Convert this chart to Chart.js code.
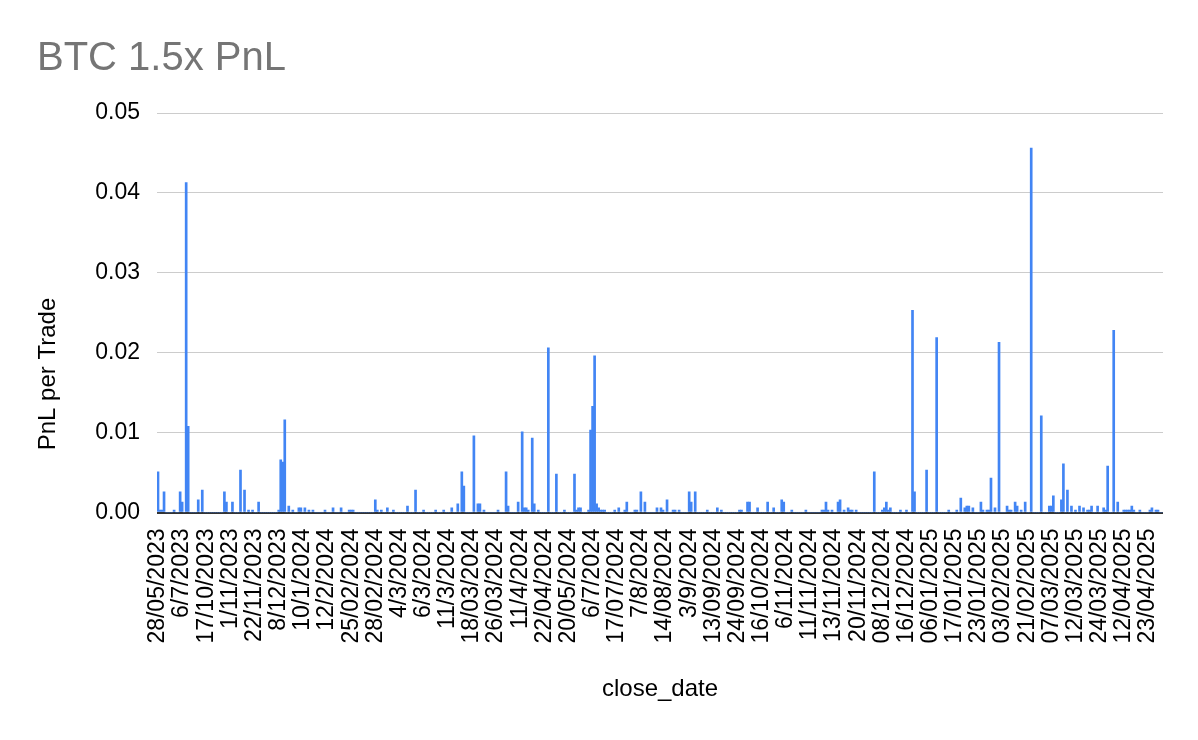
<!DOCTYPE html>
<html>
<head>
<meta charset="utf-8">
<title>BTC 1.5x PnL</title>
<script src="https://cdn.jsdelivr.net/npm/chart.js@4"></script>
<style>
    body { margin: 0; background: #fff; }
    #chart { display: block; }
</style>
</head>
<body>
<canvas id="chart" width="1198" height="740"></canvas>
<script>
// one label is shown for every 12 trades
const tickLabels = [
    '28/05/2023', '6/7/2023', '17/10/2023', '1/11/2023', '22/11/2023', '8/12/2023',
    '10/1/2024', '12/2/2024', '25/02/2024', '28/02/2024', '4/3/2024', '6/3/2024',
    '11/3/2024', '18/03/2024', '26/03/2024', '11/4/2024', '22/04/2024', '20/05/2024',
    '6/7/2024', '17/07/2024', '7/8/2024', '14/08/2024', '3/9/2024', '13/09/2024',
    '24/09/2024', '16/10/2024', '6/11/2024', '11/11/2024', '13/11/2024', '20/11/2024',
    '08/12/2024', '16/12/2024', '06/01/2025', '17/01/2025', '23/01/2025', '03/02/2025',
    '21/02/2025', '07/03/2025', '12/03/2025', '24/03/2025', '12/04/2025', '23/04/2025'
];
const tickEvery = 12;

// PnL per trade
const pnl = [
    .0051,.0003,.0003,.0026,0,0,0,0,.0003,0,0,.0026,.0013,0,.0413,.0108,0,0,0,0,
    .0016,0,.0028,0,0,0,0,0,0,0,0,0,0,.0026,.0013,0,0,.0013,0,0,
    0,.0053,0,.0028,0,.0003,0,.0003,0,0,.0013,0,0,0,0,0,0,0,0,0,
    .0003,.0066,.0063,.0116,0,.0008,0,.0003,0,0,.0006,.0006,0,.0006,0,.0003,0,.0003,0,0,
    0,0,0,.0003,0,0,0,.0006,0,0,0,.0006,0,0,0,.0003,.0003,.0003,0,0,
    0,0,0,0,0,0,0,0,.0016,.0003,0,.0003,0,0,.0006,0,0,.0003,0,0,
    0,0,0,0,.0008,0,0,0,.0028,0,0,0,.0003,0,0,0,0,0,.0003,0,
    0,0,.0003,0,0,0,.0006,0,0,.0011,0,.0051,.0033,0,0,0,0,.0096,0,.0011,
    .0011,0,.0003,0,0,0,0,0,0,.0003,0,0,0,.0051,.0008,0,0,0,0,.0013,
    0,.0101,.0006,.0006,.0003,0,.0093,.0011,0,.0003,0,0,0,0,.0206,0,0,0,.0048,0,
    0,0,.0003,0,0,0,0,.0048,.0003,.0006,.0006,0,0,0,.0003,.0103,.0133,.0196,.0011,.0006,
    .0003,.0003,.0003,0,0,0,0,.0003,0,.0006,0,0,.0003,.0013,0,0,0,.0003,.0003,0,
    .0026,0,.0013,0,0,0,0,0,.0006,0,.0006,.0003,0,.0016,0,0,.0003,.0003,0,.0003,
    0,0,0,0,.0026,.0013,0,.0026,0,0,0,0,0,.0003,0,0,0,0,.0006,0,
    .0003,0,0,0,0,0,0,0,0,.0003,.0003,0,0,.0013,.0013,0,0,0,.0006,0,
    0,0,0,.0013,0,0,.0006,0,0,0,.0016,.0013,0,0,0,.0003,0,0,0,0,
    0,0,.0003,0,0,0,0,0,0,0,.0003,.0003,.0013,.0003,0,.0003,0,0,.0013,.0016,
    0,.0003,0,.0006,.0003,.0003,0,.0003,0,0,0,0,0,0,0,0,.0051,0,0,0,
    .0003,.0006,.0013,.0003,.0006,0,0,0,0,.0003,0,0,.0003,0,0,.0253,.0026,0,0,0,
    0,0,.0053,0,0,0,0,.0219,0,0,0,0,0,.0003,0,0,0,.0003,0,.0018,
    0,.0006,.0008,.0008,0,.0006,0,0,0,.0013,.0003,0,.0003,.0003,.0043,0,.0006,0,.0213,0,
    0,0,.0008,.0003,.0003,0,.0013,.0008,0,.0003,0,.0013,0,0,.0456,0,0,0,0,.0121,
    0,0,0,.0008,.0008,.0021,0,0,0,.0016,.0061,0,.0028,0,.0008,0,.0003,0,.0008,0,
    .0006,0,.0003,.0003,.0008,0,0,.0008,0,0,.0006,.0003,.0058,0,0,.0228,0,.0013,0,0,
    .0003,.0003,.0003,.0003,.0008,.0003,0,0,.0003,0,0,0,0,.0003,.0006,0,.0003,.0003,0,0
];

const yTicks = { min: 0, max: 0.05, step: 0.01 };

var font = "'Liberation Sans', Arial, sans-serif";
Chart.defaults.font.family = font;
Chart.defaults.color = '#000';

// sheets puts the y title lower than the middle of the axis, so draw it by hand
var yTitle = {
    id: 'yTitle',
    afterDraw: function(chart) {
        var c = chart.ctx;
        c.save();
        c.translate(48, 374);
        c.rotate(-Math.PI / 2);
        c.font = '24px ' + font;
        c.fillStyle = '#000';
        c.textAlign = 'center';
        c.textBaseline = 'middle';
        c.fillText('PnL per Trade', 0, 0);
        c.restore();
    }
};

var ctx = document.getElementById('chart').getContext('2d');
new Chart(ctx, {
    type: 'bar',
    data: {
        labels: pnl.map(function(v, i) { return i; }),
        datasets: [{
            label: 'PnL per Trade',
            data: pnl,
            backgroundColor: '#4285f4',
            borderWidth: 0,
            barPercentage: 1,
            categoryPercentage: 1
        }]
    },
    options: {
        responsive: false,
        animation: false,
        layout: { padding: { left: 37, right: 35, top: 0, bottom: 36 } },
        plugins: {
            legend: { display: false },
            tooltip: { enabled: false },
            title: {
                display: true,
                text: 'BTC 1.5x PnL',
                align: 'start',
                color: '#757575',
                font: { size: 40, weight: 'normal' },
                padding: { top: 35, bottom: 30 }
            }
        },
        scales: {
            x: {
                grid: { display: false },
                border: { display: false },
                ticks: {
                    autoSkip: false,
                    minRotation: 90,
                    maxRotation: 90,
                    padding: 8,
                    font: { size: 23 },
                    callback: function(val, i) {
                        return i % tickEvery === 0 ? tickLabels[i / tickEvery] : null;
                    }
                },
                title: {
                    display: true,
                    text: 'close_date',
                    font: { size: 24 },
                    padding: 0
                },
                afterFit: function(scale) { scale.height = 191.5; }
            },
            y: {
                min: yTicks.min,
                max: yTicks.max,
                border: { display: false },
                grid: {
                    drawTicks: false,
                    color: function(c) { return c.tick && c.tick.value === 0 ? '#333' : '#ccc'; },
                    lineWidth: function(c) { return c.tick && c.tick.value === 0 ? 2 : 1; }
                },
                ticks: {
                    stepSize: yTicks.step,
                    padding: 17,
                    font: { size: 23 },
                    callback: function(v) { return v.toFixed(2); }
                },
                afterFit: function(scale) { scale.width = 120; }
            }
        }
    },
    plugins: [yTitle]
});
</script>
</body>
</html>
